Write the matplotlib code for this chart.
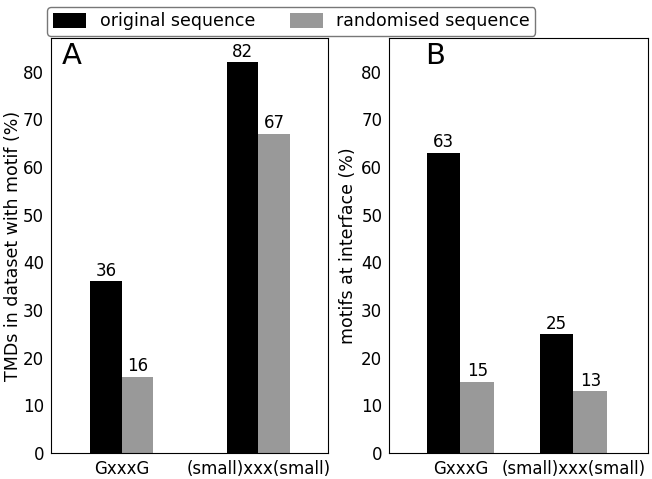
import numpy as np
import matplotlib
matplotlib.use("Agg")
import matplotlib.pyplot as plt

# data
motifs = ["GxxxG", "(small)xxx(small)"]
series_names = ["original sequence", "randomised sequence"]
dataset_orig = [36, 82]
dataset_rand = [16, 67]
interface_orig = [63, 25]
interface_rand = [15, 13]

colors = ["#000000", "#999999"]

plt.rcParams['font.family'] = ['DejaVu Sans']
plt.rcParams['font.size'] = 12

fig = plt.figure(figsize=(6.52, 4.79), dpi=100)
axA = fig.add_axes([0.078, 0.054, 0.425, 0.866])
axB = fig.add_axes([0.597, 0.054, 0.397, 0.866])

x = np.arange(len(motifs))

def draw(ax, orig, rand, w, xlim, ylabel, letter, lx, lpad):
    b1 = ax.bar(x - w / 2, orig, w, color=colors[0], label=series_names[0])
    b2 = ax.bar(x + w / 2, rand, w, color=colors[1], label=series_names[1])
    ax.bar_label(b1, padding=1, fontsize=12)
    ax.bar_label(b2, padding=1, fontsize=12)
    ax.set_xlim(*xlim)
    ax.set_ylim(0, 87)
    ax.set_yticks(range(0, 81, 10))
    ax.set_xticks(x)
    ax.set_xticklabels(motifs)
    ax.tick_params(length=0, pad=5, labelsize=12)
    ax.set_ylabel(ylabel, fontsize=12.5, labelpad=lpad)
    ax.text(lx, 0.99, letter, transform=ax.transAxes, fontsize=21,
            va='top', ha='left')
    return b1, b2

h = draw(axA, dataset_orig, dataset_rand, 0.23, (-0.52, 1.51),
         "TMDs in dataset with motif (%)", "A", 0.04, 0.5)
draw(axB, interface_orig, interface_rand, 0.3, (-0.63, 1.66),
     "motifs at interface (%)", "B", 0.14, 3)

fig.legend(h, series_names, loc='upper center', bbox_to_anchor=(0.447, 1.003),
           ncol=2, fontsize=12.5, frameon=True, edgecolor='#555555',
           handlelength=1.9, handleheight=1.0, columnspacing=2.0,
           borderpad=0.3)

fig.savefig("out.png", dpi=100)
